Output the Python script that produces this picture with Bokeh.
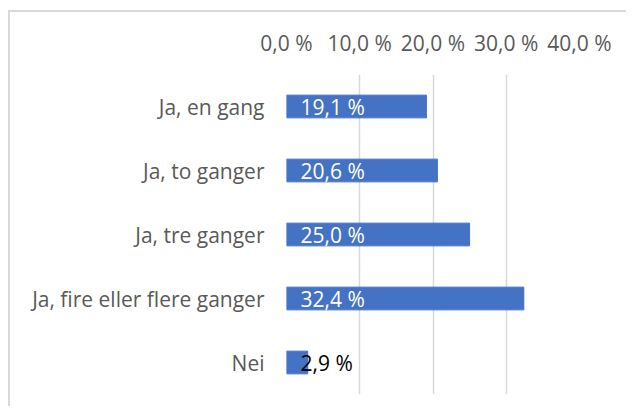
from bokeh.plotting import figure
from bokeh.models import ColumnDataSource, FactorRange, Range1d, FixedTicker, CustomJSTickFormatter
from bokeh.core.properties import value
from bokeh.embed import file_html
from bokeh.resources import INLINE

categories = ["Ja, en gang", "Ja, to ganger", "Ja, tre ganger", "Ja, fire eller flere ganger", "Nei"]
values = [19.1, 20.6, 25.0, 32.4, 2.9]
label_colors = ["white", "white", "white", "white", "black"]
tick_values = [0, 10, 20, 30, 40]

labels = [("%.1f" % v).replace(".", ",") + " %" for v in values]

src = ColumnDataSource(dict(cat=categories, val=values, lab=labels, lc=label_colors))

p = figure(
    y_range=FactorRange(*list(reversed(categories))),
    x_range=Range1d(0, 40),
    width=618, height=396,
    output_backend="svg", toolbar_location=None,
    x_axis_location="above",
    min_border_left=276, min_border_right=49, min_border_top=62, min_border_bottom=14,
)
p.margin = (10, 0, 0, 8)
p.styles = {"border-top": "2px solid #d9d9d9", "border-left": "2px solid #d9d9d9"}
p.outline_line_color = None
p.background_fill_color = "white"
p.border_fill_color = "white"

p.hbar(y="cat", right="val", left=0, height=0.355, source=src, color="#4472C4")
p.text(x=0, y="cat", text="lab", source=src, x_offset=14, text_baseline="middle",
       text_align="left", text_color="lc", text_font=value("Open Sans"), text_font_size="21px")

xa = p.xaxis[0]
xa.ticker = FixedTicker(ticks=tick_values)
xa.formatter = CustomJSTickFormatter(code="return tick.toFixed(1).replace('.', ',') + ' %';")
xa.axis_line_color = None
xa.major_tick_line_color = None
xa.major_tick_out = 0
xa.major_tick_in = 0
xa.minor_tick_line_color = None
xa.major_label_standoff = 18
xa.major_label_text_font = "Open Sans"
xa.major_label_text_font_size = "21px"
xa.major_label_text_color = "#595959"

ya = p.yaxis[0]
ya.axis_line_color = None
ya.major_tick_line_color = None
ya.major_tick_out = 0
ya.major_tick_in = 0
ya.minor_tick_line_color = None
ya.major_label_standoff = 22
ya.major_label_text_font = "Open Sans"
ya.major_label_text_font_size = "21px"
ya.major_label_text_color = "#595959"

p.xgrid.ticker = FixedTicker(ticks=tick_values)
p.xgrid.grid_line_color = "#d9d9d9"
p.xgrid.grid_line_width = 1.5
p.ygrid.grid_line_color = None

open("out.html", "w").write(file_html(p, INLINE))
